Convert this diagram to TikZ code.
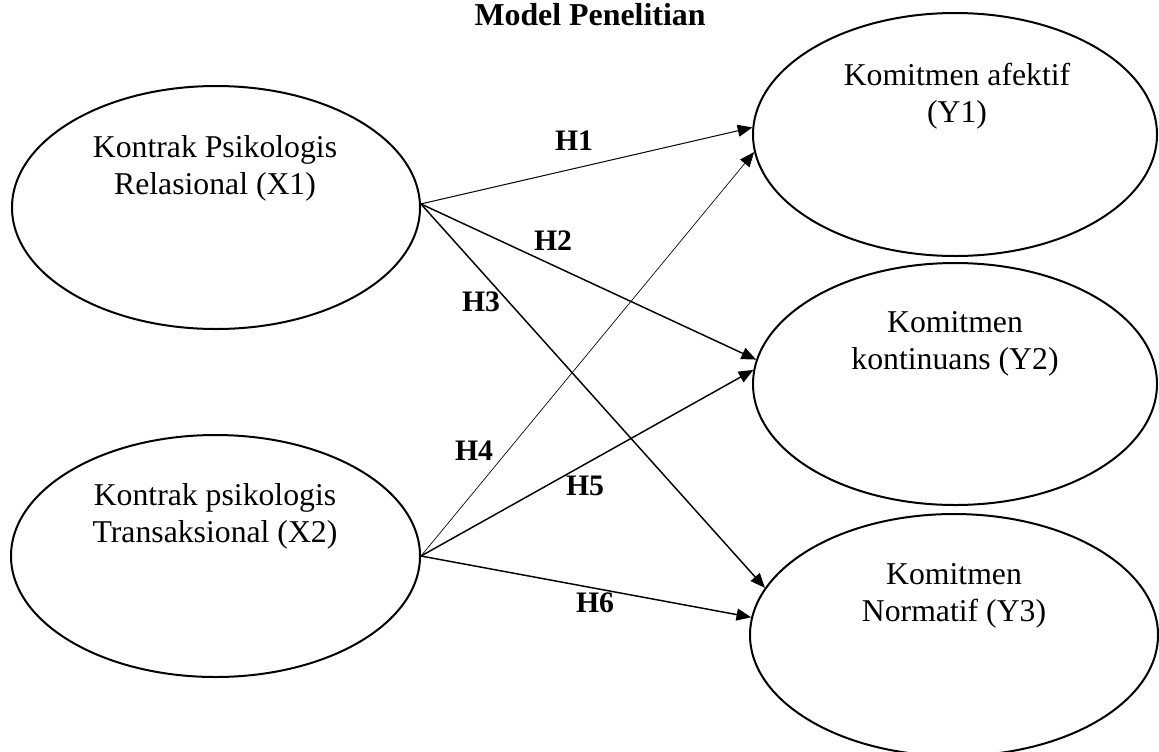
\documentclass[tikz,border=0pt]{standalone}
\usepackage{fontspec}
\setmainfont{Liberation Serif}
\usetikzlibrary{shapes.geometric,arrows.meta}
\begin{document}
\begin{tikzpicture}[x=0.75pt,y=-0.75pt,
  var/.style={draw, ellipse, line width=1.5pt, inner sep=0pt},
  lbl/.style={align=center, font=\fontsize{23.8}{28}\selectfont},
  hyp/.style={font=\bfseries\fontsize{22.3}{26}\selectfont, inner sep=0pt},
  arr/.style={-{Triangle[length=11pt,width=9pt]}, line width=1.1pt},
  thinarr/.style={-{Triangle[length=11pt,width=9pt]}, line width=0.75pt},
  hairarr/.style={-{Triangle[length=11pt,width=9pt]}, line width=0.5pt}]
\useasboundingbox (0,0) rectangle (1159,751);
\clip (0,0) rectangle (1159,751);
% title
\node[anchor=base, font=\bfseries\fontsize{23.9}{28}\selectfont, inner sep=0pt] (title) at (590,25) {Model Penelitian};
% ellipses
\node[var, minimum width=306pt, minimum height=182.25pt] (X1) at (216,207.5) {};
\node[var, minimum width=306.75pt, minimum height=181.5pt] (X2) at (215.5,556) {};
\node[var, minimum width=303pt, minimum height=182.25pt] (Y1) at (955,134.5) {};
\node[var, minimum width=303pt, minimum height=181.5pt] (Y2) at (955,384) {};
\node[var, minimum width=306pt, minimum height=181.5pt] (Y3) at (954,635) {};
% texts
\node[lbl] (X1t) at (215,168.5) {Kontrak Psikologis\\Relasional (X1)};
\node[lbl] (X2t) at (215,516.5) {Kontrak psikologis\\Transaksional (X2)};
\node[lbl] (Y1t) at (957,96) {Komitmen afektif\\(Y1)};
\node[lbl] (Y2t) at (955,344) {Komitmen\\kontinuans (Y2)};
\node[lbl] (Y3t) at (954,596) {Komitmen\\Normatif (Y3)};
% arrows
\draw[thinarr] (X1.1.5) -- (Y1.178);
\draw[arr] (X1.1.5) -- (Y2.173);
\draw[arr] (X1.1.5) -- (Y3.166);
\draw[hairarr] (X2.east) -- (Y1.185.5);
\draw[arr] (X2.east) -- (Y2.176.5);
\draw[arr] (X2.east) -- (Y3.175);
% hypothesis labels
\node[hyp] (H1) at (574,141) {H1};
\node[hyp] (H2) at (553,241) {H2};
\node[hyp] (H3) at (481,302) {H3};
\node[hyp] (H4) at (474,451) {H4};
\node[hyp] (H5) at (585,486) {H5};
\node[hyp] (H6) at (595,603) {H6};
\end{tikzpicture}
\end{document}
